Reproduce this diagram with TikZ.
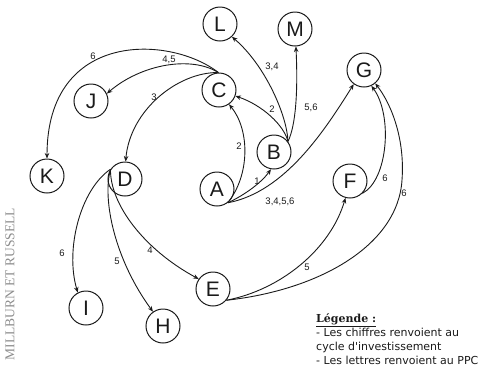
\documentclass[tikz,border=0pt]{standalone}
\usepackage{fontspec}
\usetikzlibrary{arrows.meta}
\newfontfamily\nodefont{Liberation Sans}
\newfontfamily\labfont{Liberation Sans}
\newfontfamily\legfont{DejaVu Sans}
\newfontfamily\legtitle{DejaVu Serif}
\newfontfamily\srcfont{Liberation Serif}
\definecolor{srcgray}{HTML}{8C8C8C}
\definecolor{ink}{HTML}{1A1A1A}
\tikzset{
  pnode/.style={circle, draw=ink, line width=1pt, minimum size=34pt, inner sep=0pt,
    font=\nodefont\fontsize{21}{25}\selectfont, text=ink},
  edge/.style={draw=ink, line width=0.9pt, -{Stealth[length=5.5pt,width=4.5pt]}},
  elab/.style={font=\labfont\fontsize{9.5}{11}\selectfont, text=ink, inner sep=0pt},
  legline/.style={font=\legfont\fontsize{11}{14}\selectfont, text=ink, inner sep=0pt, anchor=base west},
}
\begin{document}
\begin{tikzpicture}[x=1pt,y=-1pt]
\useasboundingbox (0,0) rectangle (480,368);
% nodes
\node[pnode] (L) at (220,24) {L};
\node[pnode] (M) at (295,29) {M};
\node[pnode] (G) at (364,70) {G};
\node[pnode] (C) at (219,90) {C};
\node[pnode] (J) at (91,101) {J};
\node[pnode] (B) at (274,152) {B};
\node[pnode] (K) at (47,176) {K};
\node[pnode] (D) at (125,179) {D};
\node[pnode] (A) at (217,189) {A};
\node[pnode] (F) at (350,181) {F};
\node[pnode] (E) at (213,289) {E};
\node[pnode] (I) at (86,308) {I};
\node[pnode] (H) at (163,326) {H};
% edges from A
\draw[edge] (A.-52) .. controls (250,175) and (250,130) .. (C.-55);
\draw[edge] (A.-52) .. controls (245,195) and (262,182) .. (B.-100);
\draw[edge] (A.-52) .. controls (285,192) and (325,130) .. (G.-126);
% edges from B
\draw[edge] (B.37) .. controls (284,125) and (262,105) .. (C.-20);
\draw[edge] (B.37) .. controls (287,115) and (265,65) .. (L.-47);
\draw[edge] (B.37) .. controls (296,125) and (298,90) .. (M.-87);
% edges from C
\draw[edge] (C.92) .. controls (170,35) and (47,30) .. (K.90);
\draw[edge] (C.92) .. controls (190,55) and (140,65) .. (J.25);
\draw[edge] (C.92) .. controls (178,72) and (130,110) .. (D.88);
% edges from D
\draw[edge] (D.146) .. controls (80,190) and (65,250) .. (I.118);
\draw[edge] (D.146) .. controls (102,200) and (115,260) .. (H.125);
\draw[edge] (D.146) .. controls (110,205) and (145,250) .. (E.145);
% edges from E and F
\coordinate (eg) at (402,180);
\draw[edge] (E.-40) .. controls (280,290) and (330,250) .. (F.-105);
\draw[edge] (E.-40) .. controls (320,290) and (398,245) .. (eg) .. controls (405,140) and (392,105) .. (G.-50);
\draw[edge] (F.-45) .. controls (388,180) and (393,115) .. (G.-65);
% edge labels
\node[elab] (l1) at (239,146) {2};
\node[elab] (l2) at (257,181) {1};
\node[elab] (l3) at (280,202) {3,4,5,6};
\node[elab] (l4) at (272,109) {2};
\node[elab] (l5) at (272,67) {3,4};
\node[elab] (l6) at (311,108) {5,6};
\node[elab] (l7) at (93,56) {6};
\node[elab] (l8) at (169,60) {4,5};
\node[elab] (l9) at (154,97) {3};
\node[elab] (l10) at (62,253) {6};
\node[elab] (l11) at (117,261) {5};
\node[elab] (l12) at (150,250) {4};
\node[elab] (l13) at (307,267) {5};
\node[elab] (l14) at (404,193) {6};
\node[elab] (l15) at (385,178) {6};
% legend
\node[legline, font=\legtitle\bfseries\fontsize{11}{14}\selectfont] (leg0) at (316,322) {\underline{Légende :}};
\node[legline] (leg1) at (316,336) {- Les chiffres renvoient au};
\node[legline] (leg2) at (316,350) {cycle d'investissement};
\node[legline] (leg3) at (316,364) {- Les lettres renvoient au PPC};
% source
\node[rotate=90, text=srcgray, font=\srcfont\fontsize{13.5}{16}\selectfont, inner sep=0pt] (src) at (10,284) {MILLBURN ET RUSSELL};
\end{tikzpicture}
\end{document}
